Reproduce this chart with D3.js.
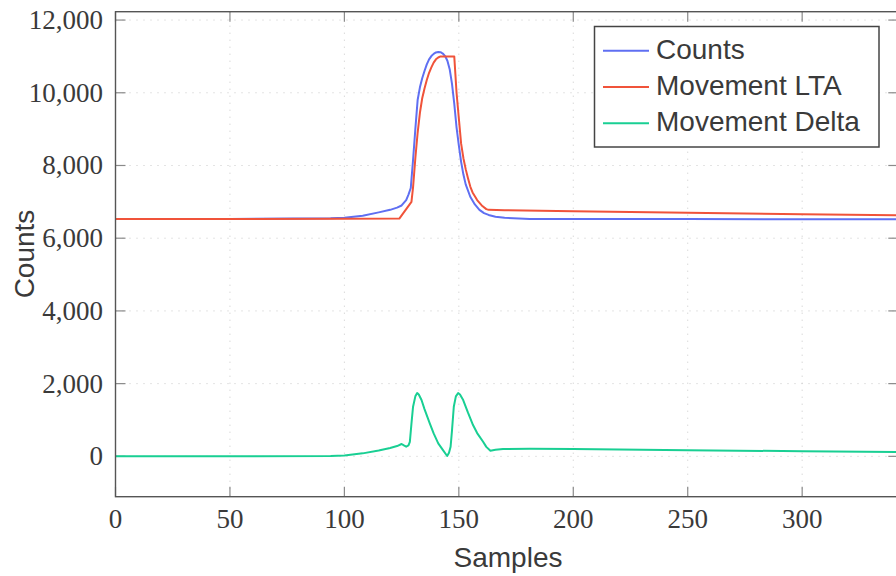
<!DOCTYPE html>
<html lang="en">
<head>
<meta charset="UTF-8">
<title>Counts vs Samples</title>
<script src="https://cdn.jsdelivr.net/npm/d3@7"></script>
<style>
  body { margin: 0; background: #fff; }
</style>
</head>
<body>
<div id="chart"></div>
<script>
    // Counts (blue)
    var countsX = [0, 50, 94, 100, 108, 115, 120, 123, 125, 127, 128, 129, 130, 131, 132, 133, 134, 135, 136, 137, 138, 139, 140, 141, 142, 143, 144, 145, 146, 147, 148, 149, 150, 151, 152, 153, 155, 157, 159, 161, 163, 166, 170, 181, 200, 250, 300, 342];
    var countsY = [6530, 6530, 6548, 6565, 6619, 6710, 6780, 6840, 6900, 7050, 7200, 7380, 8150, 9000, 9800, 10150, 10400, 10600, 10780, 10920, 11010, 11070, 11110, 11120, 11115, 11080, 11010, 10880, 10650, 10250, 9700, 9050, 8550, 8100, 7750, 7480, 7140, 6930, 6780, 6690, 6640, 6590, 6560, 6530, 6525, 6525, 6520, 6520];

    // Movement LTA (red)
    var ltaX = [0, 50, 100, 124, 129.3, 130, 131, 132, 133, 134, 135, 136, 137, 138, 139, 140, 141, 142, 148, 149, 150, 151, 152, 153, 154, 155, 156, 158, 160, 162, 163, 170, 200, 250, 300, 342];
    var ltaY = [6530, 6530, 6535, 6540, 7000, 7400, 8200, 8900, 9450, 9850, 10120, 10350, 10550, 10700, 10830, 10920, 10970, 11000, 11000, 10000, 9300, 8600, 8200, 7900, 7650, 7420, 7260, 7050, 6900, 6800, 6780, 6770, 6740, 6700, 6660, 6630];

    // Movement Delta (green)
    var deltaX = [0, 50, 94, 100, 108, 115, 120, 123, 125, 126, 127, 128, 128.6, 129.3, 130, 131, 131.8, 132.5, 133.7, 135, 137.3, 139, 141, 143, 144.9, 145.7, 146.4, 147, 147.8, 148.7, 149.7, 150.5, 151.9, 154, 156.2, 158, 160.6, 162, 163.8, 166, 169.3, 181, 200, 250, 300, 342];
    var deltaY = [0, 5, 8, 25, 82, 160, 230, 283, 340, 300, 265, 300, 400, 900, 1365, 1650, 1740, 1700, 1549, 1300, 908, 630, 358, 180, 10, 100, 264, 700, 1365, 1650, 1740, 1700, 1549, 1200, 861, 640, 402, 260, 154, 180, 201, 209, 200, 170, 140, 118];

    var xTicks = [0, 50, 100, 150, 200, 250, 300];
    var yTicks = [0, 2000, 4000, 6000, 8000, 10000, 12000];

    var seriesNames = ["Counts", "Movement LTA", "Movement Delta"];
    var seriesColors = ["#5f6ff2", "#f0533a", "#19cf93"];

    var width = 896, height = 576;
    var plotLeft = 115.5, plotTop = 11.7, plotBottom = 496.7, plotRight = 898.3;

    var svg = d3.select("#chart").append("svg")
        .attr("width", width)
        .attr("height", height);

    var x = d3.scaleLinear().domain([0, 342]).range([plotLeft, plotRight]);
    var y = d3.scaleLinear().domain([-1110, 12230]).range([plotBottom, plotTop]);

    // grid
    var grid = svg.append("g");
    xTicks.forEach(function (t) {
        grid.append("line")
            .attr("x1", x(t)).attr("x2", x(t))
            .attr("y1", plotTop).attr("y2", plotBottom)
            .attr("stroke", "#c8c8c8").attr("stroke-width", 1)
            .attr("stroke-dasharray", "1,6");
    });
    yTicks.forEach(function (t) {
        grid.append("line")
            .attr("x1", plotLeft).attr("x2", plotRight)
            .attr("y1", y(t)).attr("y2", y(t))
            .attr("stroke", "#c8c8c8").attr("stroke-width", 1)
            .attr("stroke-dasharray", "1,6");
    });

    // tick marks (inside, on all sides)
    var ticks = svg.append("g").attr("stroke", "#8a8a8a").attr("stroke-width", 1.2);
    xTicks.forEach(function (t) {
        ticks.append("line").attr("x1", x(t)).attr("x2", x(t)).attr("y1", plotBottom).attr("y2", plotBottom - 10);
        ticks.append("line").attr("x1", x(t)).attr("x2", x(t)).attr("y1", plotTop).attr("y2", plotTop + 10);
    });
    yTicks.forEach(function (t) {
        ticks.append("line").attr("x1", plotLeft).attr("x2", plotLeft + 10).attr("y1", y(t)).attr("y2", y(t));
        ticks.append("line").attr("x1", plotRight).attr("x2", plotRight - 10).attr("y1", y(t)).attr("y2", y(t));
    });

    // curves
    svg.append("clipPath").attr("id", "plotclip")
        .append("rect").attr("x", plotLeft).attr("y", plotTop)
        .attr("width", plotRight - plotLeft).attr("height", plotBottom - plotTop);

    var line = d3.line()
        .x(function (d) { return x(d[0]); })
        .y(function (d) { return y(d[1]); });

    var series = [
        d3.zip(countsX, countsY),
        d3.zip(ltaX, ltaY),
        d3.zip(deltaX, deltaY)
    ];

    var plot = svg.append("g").attr("clip-path", "url(#plotclip)");
    series.forEach(function (s, i) {
        plot.append("path")
            .attr("d", line(s))
            .attr("fill", "none")
            .attr("stroke", seriesColors[i])
            .attr("stroke-width", 2)
            .attr("stroke-linejoin", "round");
    });

    // frame
    svg.append("rect")
        .attr("x", plotLeft).attr("y", plotTop)
        .attr("width", plotRight - plotLeft).attr("height", plotBottom - plotTop)
        .attr("fill", "none").attr("stroke", "#555").attr("stroke-width", 1.4);

    // tick labels
    var fmt = d3.format(",");
    svg.append("g").selectAll("text").data(xTicks).enter().append("text")
        .attr("x", function (d) { return x(d); })
        .attr("y", 528)
        .attr("text-anchor", "middle")
        .attr("font-family", "Liberation Serif")
        .attr("font-size", 27)
        .attr("fill", "#3a3a3a")
        .text(function (d) { return d; });

    svg.append("g").selectAll("text").data(yTicks).enter().append("text")
        .attr("x", 103)
        .attr("y", function (d) { return y(d) + 9; })
        .attr("text-anchor", "end")
        .attr("font-family", "Liberation Serif")
        .attr("font-size", 27)
        .attr("fill", "#3a3a3a")
        .text(function (d) { return fmt(d); });

    // axis labels
    svg.append("text")
        .attr("x", 508).attr("y", 567)
        .attr("text-anchor", "middle")
        .attr("font-family", "Liberation Sans")
        .attr("font-size", 28)
        .attr("fill", "#3a3a3a")
        .text("Samples");

    svg.append("text")
        .attr("transform", "translate(34,254) rotate(-90)")
        .attr("text-anchor", "middle")
        .attr("font-family", "Liberation Sans")
        .attr("font-size", 28)
        .attr("fill", "#3a3a3a")
        .text("Counts");

    // legend
    var legend = svg.append("g");
    legend.append("rect")
        .attr("x", 594.5).attr("y", 26.5)
        .attr("width", 284.5).attr("height", 120.5)
        .attr("fill", "#fff").attr("stroke", "#444").attr("stroke-width", 1.5);

    seriesNames.forEach(function (name, i) {
        var ly = 50.7 + i * 36.3;
        legend.append("line")
            .attr("x1", 603).attr("x2", 649)
            .attr("y1", ly).attr("y2", ly)
            .attr("stroke", seriesColors[i]).attr("stroke-width", 2);
        legend.append("text")
            .attr("x", 656).attr("y", ly + 8)
            .attr("font-family", "Liberation Sans")
            .attr("font-size", 28)
            .attr("fill", "#3a3a3a")
            .text(name);
    });
</script>
</body>
</html>
